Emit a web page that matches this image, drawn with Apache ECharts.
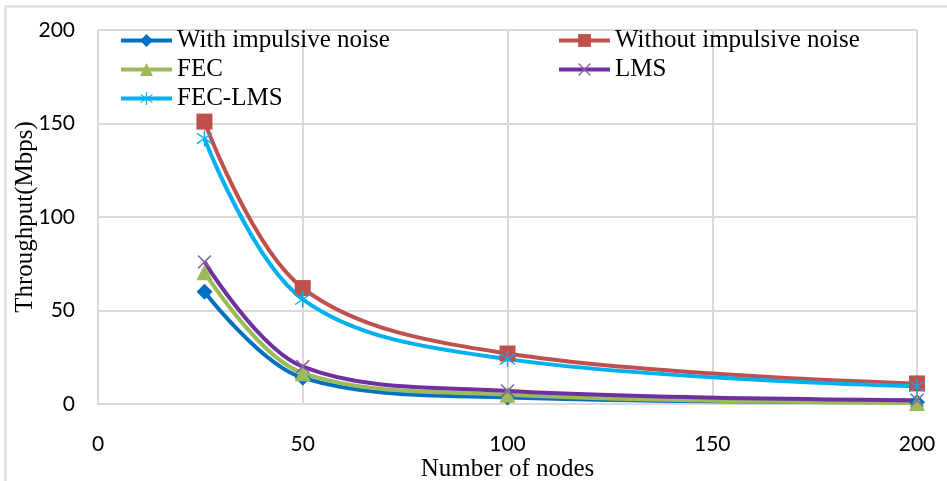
<!DOCTYPE html>
<html>
<head>
<meta charset="utf-8">
<script src="https://cdn.jsdelivr.net/npm/echarts@6/dist/echarts.min.js"></script>
<style>
html, body { margin: 0; padding: 0; background: #fff; }
#main { width: 947px; height: 481px; }
</style>
</head>
<body>
<div id="main"></div>
<script>
// data
var nodes = [26, 50, 100, 200];
var withNoise = [60, 14, 3.5, 1];
var withoutNoise = [151, 62, 27, 11];
var fec = [70.5, 16.5, 5, 0.5];
var lms = [76, 20, 7, 2];
var fecLms = [142, 56, 24, 9.5];
var seriesNames = ['With impulsive noise', 'Without impulsive noise', 'FEC', 'LMS', 'FEC-LMS'];

var serif = 'Liberation Serif';
var sans = 'Lato';

// x cross and asterisk markers
var crossPath = 'path://M0,1.5L1.5,0L10,8.5L18.5,0L20,1.5L11.5,10L20,18.5L18.5,20L10,11.5L1.5,20L0,18.5L8.5,10Z';
var starPath = 'path://M9.2,0H10.8V20H9.2Z M1.2,4.2L2,2.8L18.8,15.8L18,17.2Z M18,2.8L18.8,4.2L2,17.2L1.2,15.8Z';

function pairs(ys) {
	var out = [];
	for (var i = 0; i < nodes.length; i++) {
		out.push([nodes[i], ys[i]]);
	}
	return out;
}

function makeSeries(name, ys, color, symbol, size, symColor) {
	return {
		name: name,
		type: 'line',
		smooth: 0.35,
		data: pairs(ys),
		symbol: symbol,
		symbolSize: size,
		showAllSymbol: true,
		lineStyle: { color: color, width: 4 },
		itemStyle: { color: symColor || color },
		emphasis: { disabled: true }
	};
}

var legendText = { color: '#000', fontFamily: serif, fontSize: 25, lineHeight: 25 };

var myChart = echarts.init(document.getElementById('main'));
var option = {
	animation: false,
	backgroundColor: '#fff',
	graphic: [{
		type: 'line',
		shape: { x1: 5.5, y1: 6, x2: 5.5, y2: 481 },
		style: { stroke: '#d9d9d9', lineWidth: 2 }
	}, {
		type: 'line',
		shape: { x1: 5, y1: 6.5, x2: 947, y2: 6.5 },
		style: { stroke: '#d9d9d9', lineWidth: 2 }
	}],
	grid: { left: 98, right: 30, top: 30, bottom: 77, outerBoundsMode: 'none' },
	legend: [{
		data: ['With impulsive noise', 'FEC', 'FEC-LMS'],
		orient: 'vertical',
		left: 119,
		top: 28,
		padding: 0,
		itemWidth: 51,
		itemHeight: 16,
		itemGap: 4,
		lineStyle: { width: 4 },
		textStyle: legendText
	}, {
		data: ['Without impulsive noise', 'LMS'],
		orient: 'vertical',
		left: 557,
		top: 28,
		padding: 0,
		itemWidth: 51,
		itemHeight: 16,
		itemGap: 4,
		lineStyle: { width: 4 },
		textStyle: legendText
	}],
	xAxis: {
		type: 'value',
		min: 0,
		max: 200,
		interval: 50,
		name: 'Number of nodes',
		nameLocation: 'middle',
		nameGap: 53,
		nameMoveOverlap: false,
		nameTextStyle: { color: '#000', fontFamily: serif, fontSize: 25 },
		axisLine: { show: true, lineStyle: { color: '#d9d9d9', width: 2 } },
		axisTick: { show: false },
		axisLabel: { color: '#000', fontFamily: sans, fontSize: 21, margin: 30 },
		splitLine: { show: true, lineStyle: { color: '#d9d9d9', width: 2 } }
	},
	yAxis: {
		type: 'value',
		min: 0,
		max: 200,
		interval: 50,
		name: 'Throughput(Mbps)',
		nameLocation: 'middle',
		nameGap: 60,
		nameMoveOverlap: false,
		nameTextStyle: { color: '#000', fontFamily: serif, fontSize: 25 },
		axisLine: { show: false },
		axisTick: { show: false },
		axisLabel: { color: '#000', fontFamily: sans, fontSize: 21, margin: 23 },
		splitLine: { show: true, lineStyle: { color: '#d9d9d9', width: 2 } }
	},
	series: [
		makeSeries(seriesNames[0], withNoise, '#0070c0', 'diamond', 16),
		makeSeries(seriesNames[1], withoutNoise, '#c0504d', 'rect', 16),
		makeSeries(seriesNames[2], fec, '#9bbb59', 'triangle', 16),
		makeSeries(seriesNames[3], lms, '#7030a0', crossPath, 14, '#8064a2'),
		makeSeries(seriesNames[4], fecLms, '#00b0f0', starPath, 16)
	]
};

myChart.setOption(option);
</script>
</body>
</html>
